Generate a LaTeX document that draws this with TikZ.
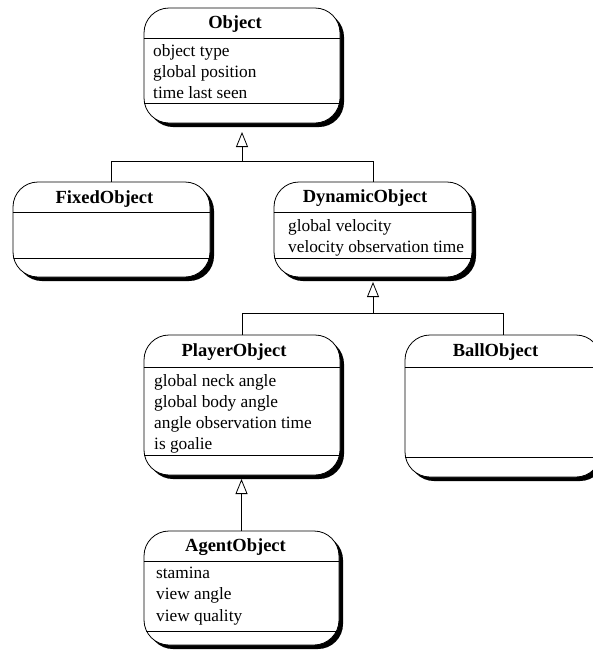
\documentclass[tikz,border=0pt]{standalone}
\usepackage{fontspec}
\setmainfont{Liberation Serif}
\usetikzlibrary{arrows.meta,shadows}
\begin{document}
\begin{tikzpicture}[x=1pt,y=-1pt,
  cls/.style={draw, line width=0.8pt, fill=white, rounded corners=25pt, inner sep=0pt,
    drop shadow={shadow xshift=4pt, shadow yshift=-4pt, fill=black, opacity=1}},
  ttl/.style={font=\fontsize{18.5}{22}\selectfont\bfseries, inner sep=0pt, text height=12.5pt, text depth=4pt},
  attr/.style={font=\fontsize{17.3}{21}\selectfont, inner sep=0pt, anchor=west, text height=12pt, text depth=4pt},
  sepline/.style={line width=0.8pt},
  conn/.style={line width=0.8pt},
  inh/.style={conn, -{Triangle[open, width=12pt, length=15pt, line width=0.8pt]}}]
\useasboundingbox (0,0) rectangle (593,651);

% class boxes
\node[cls, minimum width=196pt, minimum height=115pt] (obj) at (242,65.5) {};
\node[cls, minimum width=197pt, minimum height=95pt] (fixed) at (111.5,229.5) {};
\node[cls, minimum width=198pt, minimum height=95pt] (dyn) at (373,229.5) {};
\node[cls, minimum width=196pt, minimum height=140pt] (player) at (242,405) {};
\node[cls, minimum width=196pt, minimum height=142pt] (ball) at (503,406) {};
\node[cls, minimum width=195pt, minimum height=114pt] (agent) at (241.5,588) {};

% separators, kept inside the rounded outline
\begin{scope}
  \clip[rounded corners=25pt] (obj.north west) rectangle (obj.south east);
  \draw[sepline] (obj.west |- 0,38) -- (obj.east |- 0,38);
  \draw[sepline] (obj.west |- 0,103) -- (obj.east |- 0,103);
\end{scope}
\begin{scope}
  \clip[rounded corners=25pt] (fixed.north west) rectangle (fixed.south east);
  \draw[sepline] (fixed.west |- 0,212) -- (fixed.east |- 0,212);
  \draw[sepline] (fixed.west |- 0,258) -- (fixed.east |- 0,258);
\end{scope}
\begin{scope}
  \clip[rounded corners=25pt] (dyn.north west) rectangle (dyn.south east);
  \draw[sepline] (dyn.west |- 0,212) -- (dyn.east |- 0,212);
  \draw[sepline] (dyn.west |- 0,258) -- (dyn.east |- 0,258);
\end{scope}
\begin{scope}
  \clip[rounded corners=25pt] (player.north west) rectangle (player.south east);
  \draw[sepline] (player.west |- 0,367) -- (player.east |- 0,367);
  \draw[sepline] (player.west |- 0,455) -- (player.east |- 0,455);
\end{scope}
\begin{scope}
  \clip[rounded corners=25pt] (ball.north west) rectangle (ball.south east);
  \draw[sepline] (ball.west |- 0,367) -- (ball.east |- 0,367);
  \draw[sepline] (ball.west |- 0,457) -- (ball.east |- 0,457);
\end{scope}
\begin{scope}
  \clip[rounded corners=25pt] (agent.north west) rectangle (agent.south east);
  \draw[sepline] (agent.west |- 0,561) -- (agent.east |- 0,561);
  \draw[sepline] (agent.west |- 0,631) -- (agent.east |- 0,631);
\end{scope}

% titles
\node[ttl] (objT) at (235,24) {Object};
\node[ttl] (fixedT) at (104.5,199) {FixedObject};
\node[ttl] (dynT) at (365,198) {DynamicObject};
\node[ttl] (playerT) at (234,352) {PlayerObject};
\node[ttl] (ballT) at (495.5,352) {BallObject};
\node[ttl] (agentT) at (235.5,547) {AgentObject};

% attributes
\node[attr] (o1) at (153,52) {object type};
\node[attr] (o2) at (153,73) {global position};
\node[attr] (o3) at (153,94) {time last seen};
\node[attr] (d1) at (288,227) {global velocity};
\node[attr] (d2) at (288,248) {velocity observation time};
\node[attr] (p1) at (154,382) {global neck angle};
\node[attr] (p2) at (154,403) {global body angle};
\node[attr] (p3) at (154,424) {angle observation time};
\node[attr] (p4) at (154,445) {is goalie};
\node[attr] (a1) at (156,574) {stamina};
\node[attr] (a2) at (156,595) {view angle};
\node[attr] (a3) at (156,617) {view quality};

% inheritance connectors
\coordinate (j1) at (obj.south |- 0,161);
\draw[conn] (fixed.north) |- (j1);
\draw[conn] (dyn.north) |- (j1);
\draw[inh] (j1) -- (obj.south |- 0,132);

\coordinate (j2) at (dyn.south |- 0,313);
\draw[conn] (player.north) |- (j2);
\draw[conn] (ball.north) |- (j2);
\draw[inh] (j2) -- (dyn.south |- 0,282);

\draw[inh] (agent.north) -- (agent.north |- 0,479);
\end{tikzpicture}
\end{document}
